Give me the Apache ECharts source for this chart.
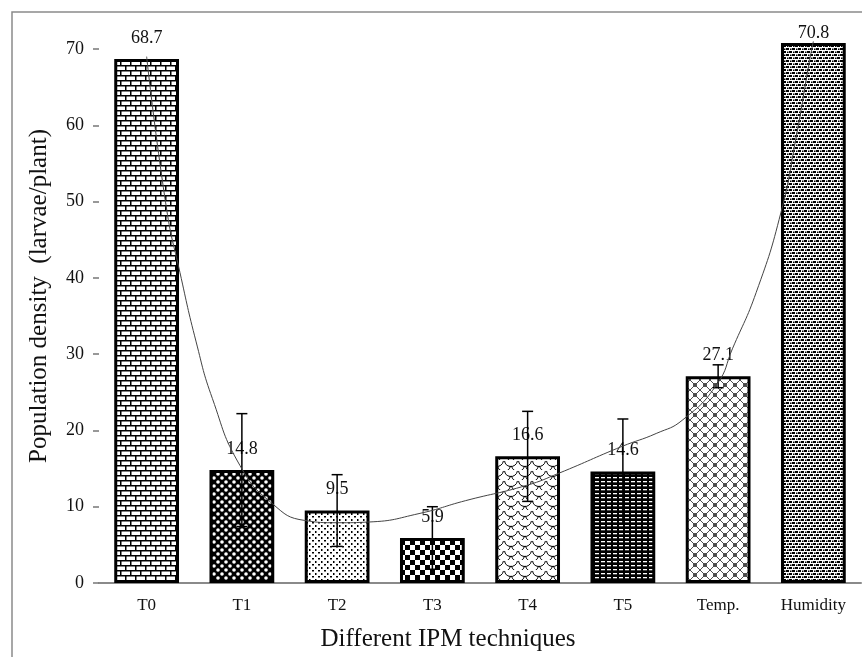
<!DOCTYPE html>
<html>
<head>
<meta charset="utf-8">
<script src="https://cdn.jsdelivr.net/npm/echarts@6/dist/echarts.min.js"></script>
<style>
  html, body { margin: 0; padding: 0; background: #fff; }
  #chart { width: 862px; height: 657px; }
</style>
</head>
<body>
<div id="chart"></div>
<script>
// data
var categories = ['T0', 'T1', 'T2', 'T3', 'T4', 'T5', 'Temp.', 'Humidity']
var means = [68.7, 14.8, 9.5, 5.9, 16.6, 14.6, 27.1, 70.8]
var errors = [0, 7.4, 4.7, 4.1, 5.9, 6.9, 1.5, 0]
var yTicks = [0, 10, 20, 30, 40, 50, 60, 70]
// trend curve, read at positions along the category axis (index units)
var trendX = [0, 0.21, 0.35, 0.52, 0.69, 0.98, 1.32, 1.66, 2.0, 2.34, 2.86, 3.35, 3.99, 4.33, 4.99, 5.35, 5.63, 5.99, 6.15, 6.4, 6.66, 6.82, 6.96, 7.0]
var trendY = [69, 49, 40.7, 31.6, 24.2, 15.4, 10.4, 8.2, 7.9, 8.0, 9.1, 10.8, 12.8, 14.4, 17.9, 19.6, 21.4, 26.1, 30.7, 38.1, 48.6, 58.5, 68.5, 71]

var serif = '"Liberation Serif", "DejaVu Serif", serif'

// fill patterns for the bars
function tile(w, h, draw) {
  var c = document.createElement('canvas')
  c.width = w
  c.height = h
  var ctx = c.getContext('2d')
  ctx.fillStyle = '#fff'
  ctx.fillRect(0, 0, w, h)
  draw(ctx)
  return { image: c, repeat: 'repeat' }
}

var patterns = [
  // bricks
  tile(20, 10, function(ctx) {
    ctx.fillStyle = '#000'
    ctx.fillRect(0, 0, 20, 1.5)
    ctx.fillRect(0, 5, 20, 1.5)
    ctx.fillRect(0, 0, 1.5, 5)
    ctx.fillRect(10, 0, 1.5, 5)
    ctx.fillRect(5, 5, 1.5, 5)
    ctx.fillRect(15, 5, 1.5, 5)
  }),
  // black with white round holes
  tile(8, 8, function(ctx) {
    ctx.fillStyle = '#000'
    ctx.fillRect(0, 0, 8, 8)
    ctx.fillStyle = '#fff'
    ;[[2, 2], [6, 6]].forEach(function(p) {
      ctx.beginPath()
      ctx.arc(p[0], p[1], 1.8, 0, Math.PI * 2)
      ctx.fill()
    })
  }),
  // medium dots
  tile(6, 6, function(ctx) {
    ctx.fillStyle = '#000'
    ctx.fillRect(0, 0, 2, 1.5)
    ctx.fillRect(3, 3, 1.5, 2)
  }),
  // checkerboard
  tile(10, 10, function(ctx) {
    ctx.fillStyle = '#000'
    ctx.fillRect(0, 0, 5, 5)
    ctx.fillRect(5, 5, 5, 5)
  }),
  // scales
  tile(14, 10, function(ctx) {
    ctx.strokeStyle = '#000'
    ctx.lineWidth = 1
    ctx.beginPath()
    ctx.arc(7, 0, 6.5, 0.15, Math.PI - 0.15)
    ctx.stroke()
    ctx.beginPath()
    ctx.arc(0, 5, 6.5, 0.15, Math.PI / 2)
    ctx.stroke()
    ctx.beginPath()
    ctx.arc(14, 5, 6.5, Math.PI / 2, Math.PI - 0.15)
    ctx.stroke()
    ctx.beginPath()
    ctx.arc(7, 10, 6.5, 0.15, Math.PI - 0.15)
    ctx.stroke()
  }),
  // dark with white dashes
  tile(6, 4, function(ctx) {
    ctx.fillStyle = '#000'
    ctx.fillRect(0, 0, 6, 4)
    ctx.fillStyle = '#fff'
    ctx.fillRect(1, 1, 4, 1.3)
  }),
  // diamond lattice with small rings
  tile(10, 10, function(ctx) {
    ctx.strokeStyle = '#222'
    ctx.lineWidth = 0.8
    ctx.beginPath()
    ctx.moveTo(0, 0); ctx.lineTo(10, 10)
    ctx.moveTo(10, 0); ctx.lineTo(0, 10)
    ctx.stroke()
    ctx.beginPath()
    ctx.arc(5, 5, 1.6, 0, Math.PI * 2)
    ctx.stroke()
  }),
  // dense dots
  tile(6, 6, function(ctx) {
    ctx.fillStyle = '#000'
    ctx.fillRect(0, 0, 3, 2)
    ctx.fillRect(3, 3, 3, 2)
    ctx.fillRect(4, 0.5, 1.5, 1.5)
    ctx.fillRect(1, 3.5, 1.5, 1.5)
  })
]

var barData = means.map(function(v, i) {
  return {
    value: v,
    itemStyle: { color: patterns[i] },
    label: { distance: v > 70 ? 1 : 12 }
  }
})

// only bars that carry an error bar
var errData = []
means.forEach(function(v, i) {
  if (errors[i] > 0) errData.push([i, v - errors[i], v + errors[i]])
})

var trendData = trendX.map(function(x, i) {
  return [x, trendY[i]]
})

var chart = echarts.init(document.getElementById('chart'))
var option = {
  backgroundColor: '#fff',
  animation: false,
  graphic: [
    {
      type: 'rect',
      shape: { x: 12, y: 12, width: 860, height: 660 },
      style: { fill: 'none', stroke: '#8a8a8a', lineWidth: 1.5 },
      silent: true
    }
  ],
  grid: { left: 99, right: 1, top: 49, bottom: 72 },
  xAxis: [
    {
      type: 'category',
      data: categories,
      name: 'Different IPM techniques',
      nameLocation: 'middle',
      nameGap: 44,
      nameTextStyle: { fontFamily: serif, fontSize: 25, color: '#111', padding: [0, 64, 0, 0] },
      axisLine: { lineStyle: { color: '#8a8a8a', width: 2 } },
      axisTick: { show: false },
      axisLabel: { fontFamily: serif, fontSize: 17, color: '#111', margin: 14 }
    },
    {
      type: 'value',
      min: -0.5,
      max: 7.5,
      show: false
    }
  ],
  yAxis: {
    type: 'value',
    min: 0,
    max: 70,
    interval: 10,
    name: 'Population density  (larvae/plant)',
    nameLocation: 'middle',
    nameGap: 47,
    nameTextStyle: { fontFamily: serif, fontSize: 25, color: '#111', padding: [0, 0, 0, 40] },
    axisLine: { show: true, onZero: false, lineStyle: { color: 'rgba(0,0,0,0)' } },
    axisTick: { show: true, length: 6, lineStyle: { color: '#777', width: 1.5 } },
    splitLine: { show: false },
    axisLabel: {
      fontFamily: serif,
      fontSize: 18,
      color: '#111',
      margin: 15,
      formatter: function(v) { return yTicks.indexOf(v) >= 0 ? String(v) : '' }
    }
  },
  series: [
    {
      type: 'bar',
      data: barData,
      barWidth: '68%',
      clip: false,
      itemStyle: { borderColor: '#000', borderWidth: 3 },
      label: {
        show: true,
        position: 'top',
        fontFamily: serif,
        fontSize: 18,
        color: '#111',
        formatter: function(p) { return p.value.toFixed(1) }
      },
      z: 2
    },
    {
      type: 'custom',
      data: errData,
      z: 3,
      renderItem: function(params, api) {
        var lo = api.coord([api.value(0), api.value(1)])
        var hi = api.coord([api.value(0), api.value(2)])
        var w = 5.5
        var st = { stroke: '#000', lineWidth: 1.5 }
        return {
          type: 'group',
          children: [
            { type: 'line', shape: { x1: hi[0], y1: hi[1], x2: lo[0], y2: lo[1] }, style: st },
            { type: 'line', shape: { x1: hi[0] - w, y1: hi[1], x2: hi[0] + w, y2: hi[1] }, style: st },
            { type: 'line', shape: { x1: lo[0] - w, y1: lo[1], x2: lo[0] + w, y2: lo[1] }, style: st }
          ]
        }
      }
    },
    {
      type: 'line',
      xAxisIndex: 1,
      data: trendData,
      smooth: true,
      symbol: 'none',
      clip: false,
      lineStyle: { color: '#444', width: 1 },
      z: 4
    }
  ]
}
chart.setOption(option)
</script>
</body>
</html>
